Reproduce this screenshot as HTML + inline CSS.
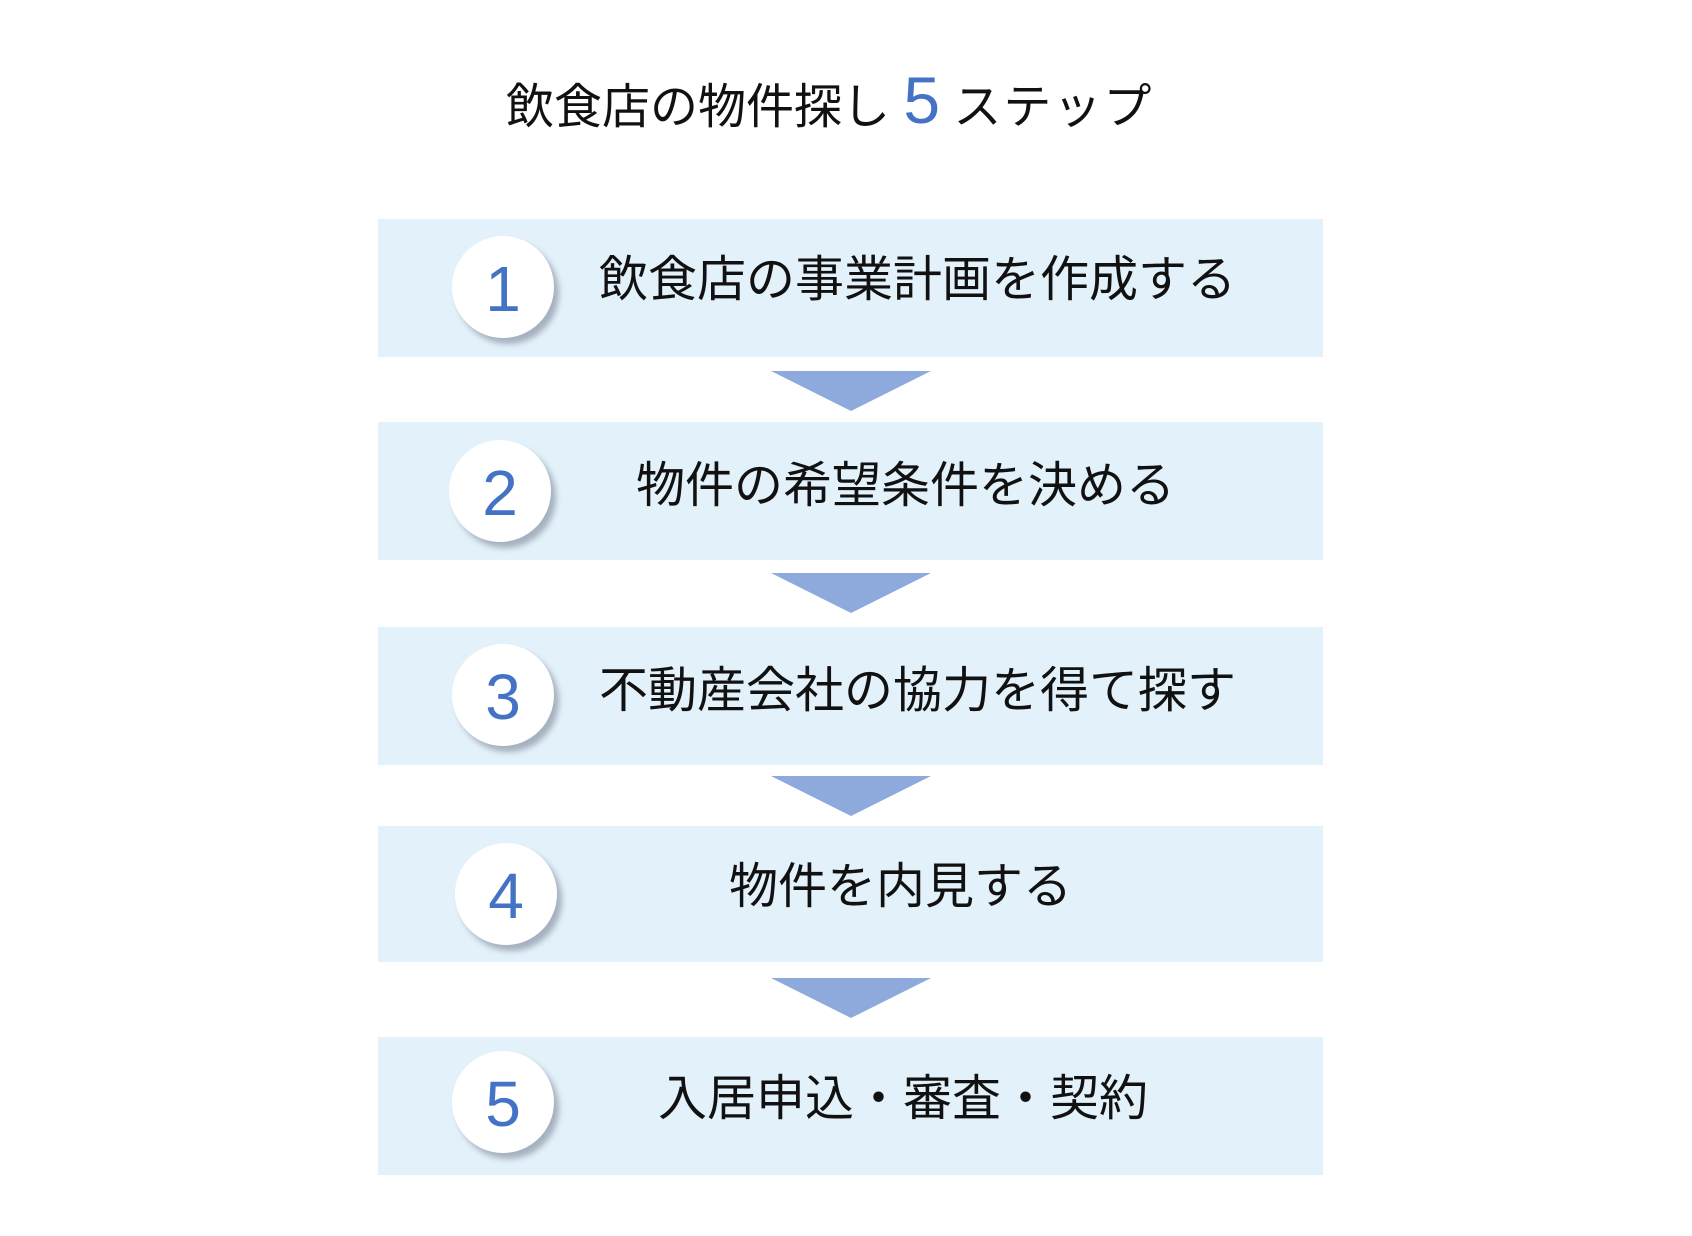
<!DOCTYPE html>
<html><head><meta charset="utf-8"><style>
body{margin:0;width:1692px;height:1236px;background:#fff;position:relative;overflow:hidden;font-family:"Liberation Sans","Noto Sans CJK JP",sans-serif;}
.box{position:absolute;left:378px;width:945px;height:138px;background:#e3f1fa;}
.arr{position:absolute;left:771px;width:0;height:0;border-left:80px solid transparent;border-right:80px solid transparent;border-top:40px solid #8eaadc;}
.c{position:absolute;width:102px;height:102px;border-radius:50%;background:#fff;box-shadow:5px 6px 6px rgba(90,100,120,0.45);color:#4472c4;font-family:"Liberation Sans",sans-serif;font-size:64px;line-height:106px;text-align:center;}
.t{position:absolute;font-size:49px;line-height:60px;color:#111;white-space:nowrap;}
</style></head><body>
<div class="t" style="left:506px;top:70px;font-size:48px;">飲食店の物件探し <span style="color:#4472c4;font-family:'Liberation Sans',sans-serif;font-size:66px;">5</span> <span style="letter-spacing:2px">ステップ</span></div>

<div class="box" style="top:219px"></div>
<div class="box" style="top:422px"></div>
<div class="box" style="top:627px"></div>
<div class="box" style="top:826px;height:136px"></div>
<div class="box" style="top:1037px"></div>

<div class="arr" style="top:371px"></div>
<div class="arr" style="top:573px"></div>
<div class="arr" style="top:776px"></div>
<div class="arr" style="top:978px"></div>

<div class="c" style="left:452px;top:236px">1</div>
<div class="c" style="left:449px;top:440px">2</div>
<div class="c" style="left:452px;top:644px">3</div>
<div class="c" style="left:455px;top:843px">4</div>
<div class="c" style="left:452px;top:1051px">5</div>

<div class="t" style="left:599px;top:250px">飲食店の事業計画を作成する</div>
<div class="t" style="left:636px;top:456px">物件の希望条件を決める</div>
<div class="t" style="left:599px;top:661px">不動産会社の協力を得て探す</div>
<div class="t" style="left:729px;top:857px">物件を内見する</div>
<div class="t" style="left:658px;top:1069px">入居申込・審査・契約</div>
</body></html>
